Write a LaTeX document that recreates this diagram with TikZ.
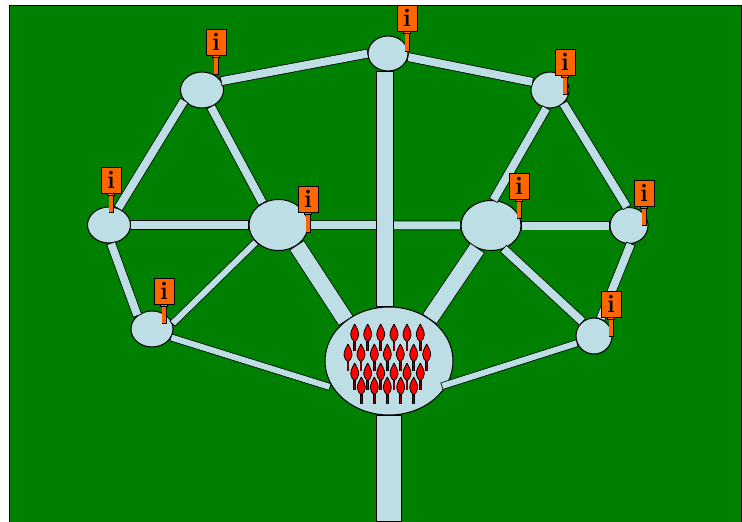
\documentclass[tikz,border=0pt]{standalone}
\usetikzlibrary{shapes.geometric}
\definecolor{lawn}{RGB}{0,128,0}
\definecolor{paving}{RGB}{189,222,228}
\definecolor{signcol}{RGB}{255,102,0}
\tikzset{
  plaza/.style n args={2}{draw=black,fill=paving,ellipse,inner sep=0pt,outer sep=0pt,
    line width=.75pt,minimum width=#1*.75pt,minimum height=#2*.75pt},
  road/.style={draw=black,line width=#1*.75pt+1.1pt,
    postaction={draw=paving,line width=#1*.75pt,shorten >=.6pt,shorten <=.6pt}},
  sign/.style={draw=black,fill=signcol,line width=.75pt,inner sep=0pt,outer sep=0pt,
    minimum width=15pt,minimum height=19.5pt,font=\fontsize{19}{19}\selectfont\bfseries},
  post/.style={draw=black,line width=3.75pt,
    postaction={draw=signcol,line width=2.8pt,shorten >=.6pt}},
}
% info sign: name, x, y of sign centre, y of post foot
\newcommand{\infosign}[4]{
  \node[sign] (#1) at (#2,#3) {i};
  \coordinate (#1foot) at (#2,#4);
  \draw[post] (#1.south) -- (#1foot);
  \fill[signcol,draw=black,line width=.5pt] ([xshift=-2.6pt]#1.south) rectangle ([xshift=2.6pt,yshift=-2pt]#1.south);
}
% one person in the crowd, top of the head at the given point
\newcommand{\person}[2]{
  \draw[black,line width=2.2pt] (#1,#2+17) -- (#1,#2+27);
  \draw[fill=red,line width=.6pt] (#1,#2) .. controls (#1+2,#2+4) and (#1+4,#2+7) .. (#1+4,#2+11)
    .. controls (#1+4,#2+14) and (#1+2,#2+16) .. (#1,#2+18)
    .. controls (#1-2,#2+16) and (#1-4,#2+14) .. (#1-4,#2+11)
    .. controls (#1-4,#2+7) and (#1-2,#2+4) .. (#1,#2);
  \draw[red!50!black,line width=1pt] (#1,#2+19) -- (#1,#2+26.5);
}
\begin{document}
\begin{tikzpicture}[x=.75pt,y=-.75pt]
  \useasboundingbox (0,0) rectangle (742,521);
  \draw[fill=lawn,line width=.75pt] (9,5) rectangle (741,522);
  % plazas
  \node[plaza={128}{108}] (hub) at (389,361) {};
  \node[plaza={40}{35}] (top) at (388,53.5) {};
  \node[plaza={43}{36}] (nwest) at (202,90) {};
  \node[plaza={38}{36}] (neast) at (550,90) {};
  \node[plaza={43}{36}] (west) at (109,225) {};
  \node[plaza={59}{51}] (cwest) at (278.5,225) {};
  \node[plaza={60}{50}] (ceast) at (491,225.5) {};
  \node[plaza={38}{36}] (east) at (629,225.5) {};
  \node[plaza={42}{36}] (swest) at (152,329) {};
  \node[plaza={36}{36}] (seast) at (594,336) {};
  \coordinate (exit) at (389,522);
  % paths round the outside
  \draw[road=8] (top.180) -- (nwest.25);
  \draw[road=8] (top.-10) -- (neast.155);
  \draw[road=8] (nwest.210) -- (west.61);
  \draw[road=8] (neast.-45) -- (east.96);
  \draw[road=8] (west.-84) -- (swest.138);
  \draw[road=8] (east.-84) -- (seast.69);
  \draw[road=6] (swest.-24) -- ([xshift=-2pt]hub.205);
  \draw[road=6] (seast.203) -- ([xshift=-3pt]hub.-24);
  % paths to the inner plazas
  \draw[road=8] (nwest.-62) -- (cwest.126);
  \draw[road=8] (neast.-101) -- (ceast.85);
  \draw[road=8] (west.0) -- (cwest.180);
  \draw[road=8] (ceast.0) -- (east.180);
  \draw[road=6] (cwest.217) -- (swest.14);
  \draw[road=8] (ceast.-62) -- (seast.129);
  \draw[road=8] (cwest.0) -- (ceast.180);
  % main avenues
  \draw[road=16] ([xshift=-2.25pt]top.south) -- ([xshift=-3pt]hub.north);
  \draw[road=16] (cwest.-48) -- (hub.137);
  \draw[road=16] (ceast.239) -- (hub.46);
  \draw[road=24] (hub.south) -- (exit);
  % crowd
  \foreach \x in {354.7,367.7,380.7,394,407,420.3} {\person{\x}{324}}
  \foreach \x in {348,361,374.3,387.3,400.3,413.7,426.7} {\person{\x}{344}}
  \foreach \x in {354.7,367.7,380.7,394,407,420.3} {\person{\x}{363}}
  \foreach \x in {361.3,374.3,387.3,400.7,413.7} {\person{\x}{377}}
  % signs
  \infosign{stop}{407}{18}{52}
  \infosign{snwest}{216}{42}{75}
  \infosign{sneast}{565}{62}{95}
  \infosign{swest1}{111}{180}{213}
  \infosign{scwest}{308}{199}{233}
  \infosign{sceast}{519}{186}{219}
  \infosign{seast1}{644}{193}{226}
  \infosign{ssw}{164}{291}{324}
  \infosign{sse}{611}{304}{337}
\end{tikzpicture}
\end{document}
